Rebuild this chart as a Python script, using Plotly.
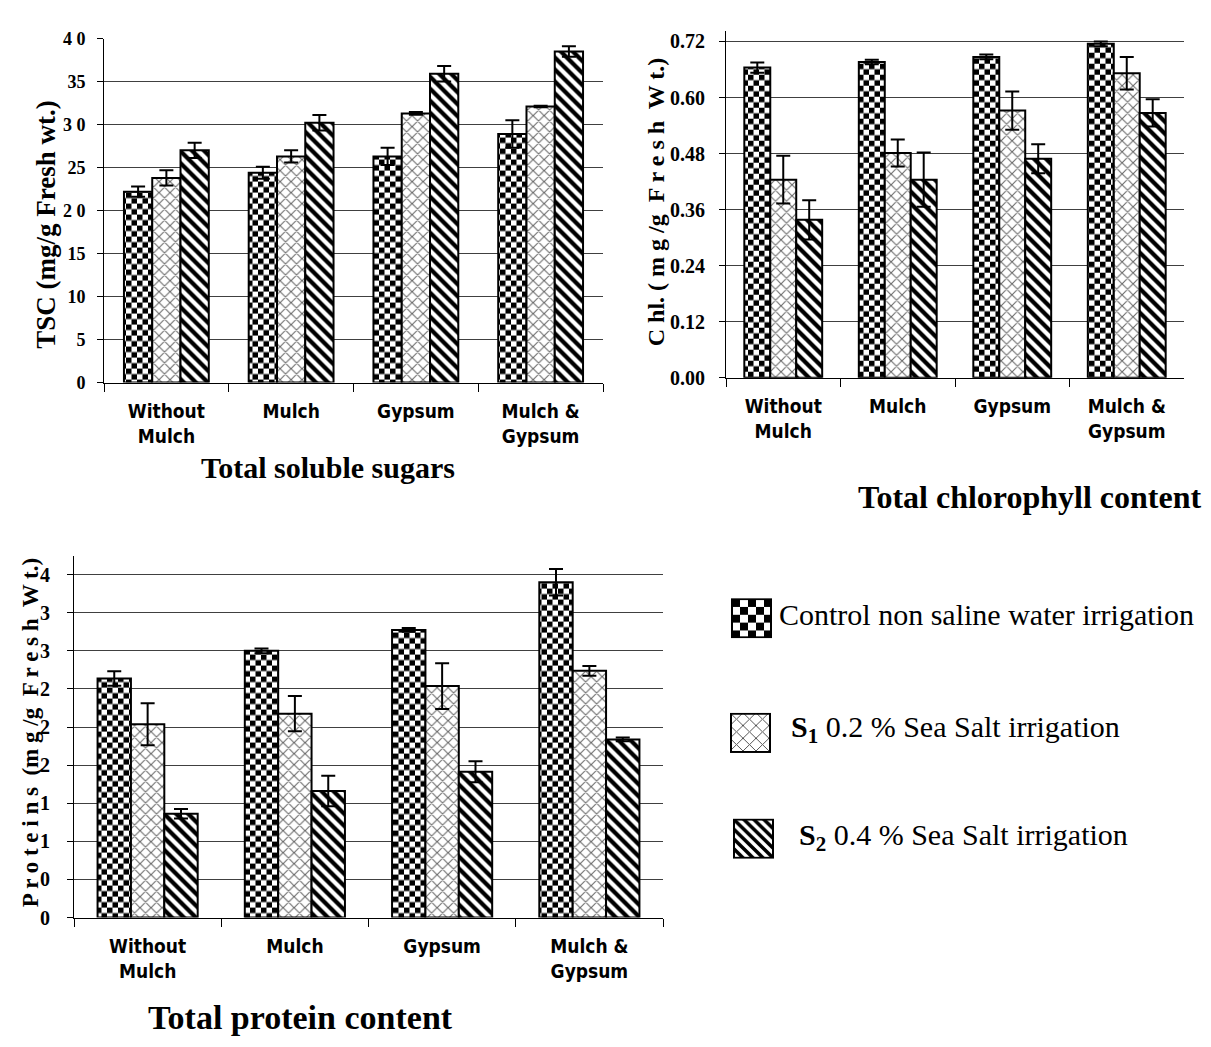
import base64
import plotly.graph_objects as go

W, H = 1211, 1047

# ---------------- data ----------------
categories = ["Without Mulch", "Mulch", "Gypsum", "Mulch & Gypsum"]
category_labels = ["Without<br>Mulch", "Mulch", "Gypsum", "Mulch &<br>Gypsum"]
series_names = ["Control non saline water irrigation",
                "S1 0.2 % Sea Salt irrigation",
                "S2 0.4 % Sea Salt irrigation"]

tsc_control = [22.2, 24.4, 26.3, 28.9]
tsc_control_err = [0.6, 0.7, 1.0, 1.6]
tsc_s1 = [23.8, 26.3, 31.3, 32.1]
tsc_s1_err = [0.9, 0.7, 0.15, 0.1]
tsc_s2 = [27.0, 30.2, 35.9, 38.5]
tsc_s2_err = [0.9, 0.9, 0.9, 0.6]

chl_control = [0.664, 0.676, 0.687, 0.715]
chl_control_err = [0.011, 0.005, 0.005, 0.005]
chl_s1 = [0.424, 0.481, 0.572, 0.652]
chl_s1_err = [0.051, 0.029, 0.041, 0.035]
chl_s2 = [0.338, 0.424, 0.469, 0.567]
chl_s2_err = [0.042, 0.058, 0.031, 0.029]

prot_control = [2.51, 2.80, 3.02, 3.52]
prot_control_err = [0.075, 0.025, 0.02, 0.14]
prot_s1 = [2.03, 2.14, 2.43, 2.59]
prot_s1_err = [0.22, 0.185, 0.24, 0.05]
prot_s2 = [1.09, 1.33, 1.53, 1.87]
prot_s2_err = [0.05, 0.16, 0.11, 0.02]

tsc_ticks = [0, 5, 10, 15, 20, 25, 30, 35, 40]
tsc_ticktext = ["0", "5", "10", "15", "2 0", "25", "3 0", "35", "4 0"]
chl_ticks = [0.0, 0.12, 0.24, 0.36, 0.48, 0.60, 0.72]
prot_ticks = [0.0, 0.4, 0.8, 1.2, 1.6, 2.0, 2.4, 2.8, 3.2, 3.6]
prot_ticktext = ["0", "0", "1", "1", "2", "2", "2", "3", "3", "4"]

# ---------------- styles ----------------
patterns = [
    dict(shape=".", size=11, solidity=0.3, fgcolor="black", bgcolor="white", fgopacity=1),
    dict(shape="x", size=7.78, solidity=0.25, fgcolor="#666666", bgcolor="white", fgopacity=1),
    dict(shape="\\", size=8.485, solidity=0.5, fgcolor="black", bgcolor="white", fgopacity=1),
]

serif = "Liberation Serif, Times New Roman, serif"
narrow = "DejaVu Sans Condensed, Liberation Sans Narrow, Arial Narrow, Liberation Sans, sans-serif"

fig = go.Figure()

panels = [
    ("x", "y", [(tsc_control, tsc_control_err), (tsc_s1, tsc_s1_err), (tsc_s2, tsc_s2_err)]),
    ("x2", "y2", [(chl_control, chl_control_err), (chl_s1, chl_s1_err), (chl_s2, chl_s2_err)]),
    ("x3", "y3", [(prot_control, prot_control_err), (prot_s1, prot_s1_err), (prot_s2, prot_s2_err)]),
]
for xa, ya, series in panels:
    for (vals, errs), name, pat in zip(series, series_names, patterns):
        fig.add_trace(go.Bar(
            x=categories, y=vals, name=name, xaxis=xa, yaxis=ya,
            marker=dict(color="white", line=dict(color="black", width=2), pattern=pat),
            error_y=dict(type="data", array=errs, visible=True, color="black",
                         thickness=2, width=7),
            showlegend=False, hoverinfo="skip",
        ))

cat_font = dict(family=narrow, size=19, color="black", weight="bold")


def xaxis(domain, anchor):
    return dict(domain=domain, anchor=anchor, type="category",
                tickvals=categories, ticktext=category_labels,
                tickson="boundaries", ticks="outside", ticklen=8,
                tickcolor="black", tickwidth=1,
                showline=True, linecolor="black", linewidth=1,
                showgrid=False, zeroline=False, tickfont=cat_font,
                ticklabelstandoff=12, range=[-0.5, 3.5])


def yaxis(domain, anchor, rng, tickvals, ticktext, size, standoff):
    return dict(domain=domain, anchor=anchor, range=rng,
                tickmode="array", tickvals=tickvals, ticktext=ticktext,
                ticks="outside", ticklen=6, tickcolor="black",
                showline=True, linecolor="black", linewidth=1,
                showgrid=True, gridcolor="#404040", gridwidth=1,
                zeroline=False, ticklabelstandoff=standoff,
                tickfont=dict(family=serif, size=size, color="black", weight="bold"))


fig.update_layout(
    width=W, height=H, autosize=False,
    margin=dict(l=0, r=0, t=0, b=0),
    paper_bgcolor="white", plot_bgcolor="white",
    barmode="group", bargap=0.32, bargroupgap=0,
    xaxis=xaxis([96 / W, 595 / W], "y"),
    yaxis=yaxis([1 - 372 / H, 1 - 21 / H], "x", [0, 40], tsc_ticks, tsc_ticktext, 18, 8),
    xaxis2=xaxis([718 / W, 1176 / W], "y2"),
    yaxis2=yaxis([1 - 367 / H, 1 - 13 / H], "x2", [0, 0.743], chl_ticks,
                 ["%.2f" % v for v in chl_ticks], 20, 10),
    xaxis3=xaxis([66 / W, 655 / W], "y3"),
    yaxis3=yaxis([1 - 918 / H, 1 - 548.6 / H], "x3", [0, 3.8], prot_ticks, prot_ticktext, 20, 13),
    showlegend=False,
)

# ---------------- titles ----------------
def ann(text, x, y, size, angle=0, bold=True, xanchor="center"):
    fig.add_annotation(text=text, xref="paper", yref="paper", x=x / W, y=1 - y / H,
                       xanchor=xanchor, yanchor="middle", showarrow=False, textangle=angle,
                       font=dict(family=serif, size=size, color="black",
                                 weight="bold" if bold else "normal"))

ann("Total soluble sugars", 320, 459, 30)
ann("Total chlorophyll content", 1022, 489, 32)
ann("Total protein content", 292, 1020, 34)

ann("TSC (mg/g Fresh wt.)", 38, 211, 27, angle=-90)
ann("C hl. ( m g /g  F r e s h  W t.)", 648, 188, 24, angle=-90)
ann("P r o t e i n s  (m g /g  F r e s h  W t.)", 22, 730, 23, angle=-90)

# ---------------- legend (boxes + text) ----------------
def svg_uri(inner):
    svg = ("<svg xmlns='http://www.w3.org/2000/svg' width='41' height='41' viewBox='0 0 41 41'>"
           "<defs>" + inner + "</defs>"
           "<rect x='1' y='1' width='39' height='39' fill='url(#p)' stroke='black' stroke-width='2'/></svg>")
    return "data:image/svg+xml;base64," + base64.b64encode(svg.encode()).decode()

legend_svgs = [
    "<pattern id='p' width='16' height='16' patternUnits='userSpaceOnUse' x='1' y='1'>"
    "<rect width='16' height='16' fill='white'/><rect width='8' height='8' fill='black'/>"
    "<rect x='8' y='8' width='8' height='8' fill='black'/></pattern>",
    "<pattern id='p' width='13' height='13' patternUnits='userSpaceOnUse'>"
    "<rect width='13' height='13' fill='white'/>"
    "<path d='M0,0L13,13M13,0L0,13' stroke='#555' stroke-width='1'/></pattern>",
    "<pattern id='p' width='10' height='10' patternUnits='userSpaceOnUse'>"
    "<rect width='10' height='10' fill='white'/>"
    "<path d='M-5,5L5,15M0,0L10,10M5,-5L15,5' stroke='black' stroke-width='3.6'/></pattern>",
]
legend_box_pos = [(723, 592), (722, 709), (725, 817)]
legend_texts = ["Control non saline water irrigation",
                "<b>S<sub>1</sub></b> 0.2 % Sea Salt irrigation",
                "<b>S<sub>2</sub></b> 0.4 % Sea Salt irrigation"]
legend_text_pos = [(769, 609), (781, 726), (789, 836)]

for inner, (bx, by) in zip(legend_svgs, legend_box_pos):
    fig.add_layout_image(dict(source=svg_uri(inner), xref="paper", yref="paper",
                              x=bx / W, y=1 - by / H, sizex=41 / W, sizey=41 / H,
                              xanchor="left", yanchor="top", sizing="stretch", layer="above"))
for t, (tx, ty) in zip(legend_texts, legend_text_pos):
    ann(t, tx, ty, 30, bold=False, xanchor="left")

# replace the dot pattern of the control bars by a checkerboard
post_js = """
var gd = document.getElementById('{plot_id}');
var ns = 'http://www.w3.org/2000/svg';
gd.querySelectorAll('pattern').forEach(function(p){
  var c = p.querySelector('circle');
  if(!c) return;
  var w = parseFloat(p.getAttribute('width'));
  var h = parseFloat(p.getAttribute('height'));
  c.parentNode.removeChild(c);
  [[0,0],[w/2,h/2]].forEach(function(o){
    var r = document.createElementNS(ns,'rect');
    r.setAttribute('x', o[0]); r.setAttribute('y', o[1]);
    r.setAttribute('width', w/2); r.setAttribute('height', h/2);
    r.setAttribute('fill', 'black');
    p.appendChild(r);
  });
});
"""

fig.write_html("out.html", post_script=post_js, config={"displayModeBar": False})
